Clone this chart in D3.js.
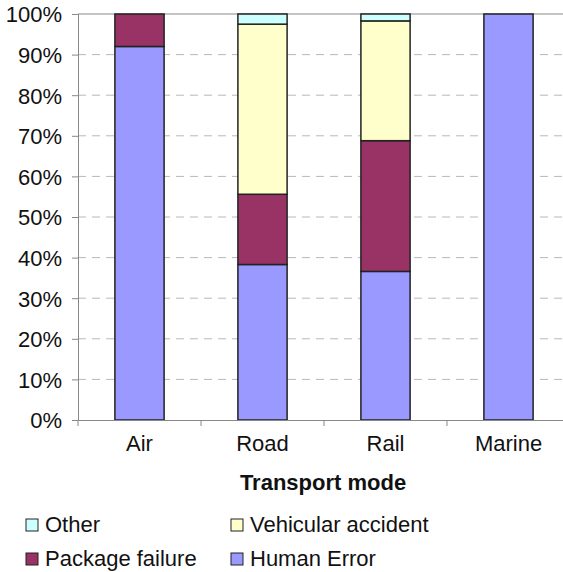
<!DOCTYPE html>
<html>
<head>
<meta charset="utf-8">
<script src="https://cdn.jsdelivr.net/npm/d3@7"></script>
<style>
  body { margin: 0; background: #fff; }
  svg { font-family: "Liberation Sans", Arial, sans-serif; }
</style>
</head>
<body>
<div id="chart"></div>
<script>
const modes = ["Air", "Road", "Rail", "Marine"];
const series = ["Human Error", "Package failure", "Vehicular accident", "Other"];
const humanError = [92, 38.3, 36.6, 100];
const packageFailure = [8, 17.3, 32.2, 0];
const vehicularAccident = [0, 41.9, 29.5, 0];
const other = [0, 2.5, 1.7, 0];
const yTicks = [0, 10, 20, 30, 40, 50, 60, 70, 80, 90, 100];
const colors = ["#9999ff", "#993366", "#ffffcc", "#ccffff"];

const width = 563, height = 572;
const margin = {top: 14, left: 78, bottom: 152};
const plotW = 492;
const fontSize = 22;

const table = modes.map((m, i) => ({
  mode: m,
  "Human Error": humanError[i],
  "Package failure": packageFailure[i],
  "Vehicular accident": vehicularAccident[i],
  "Other": other[i]
}));
const stacked = d3.stack().keys(series)(table);

const svg = d3.select("#chart").append("svg")
    .attr("width", width)
    .attr("height", height);

const x = d3.scaleBand()
    .domain(modes)
    .range([margin.left, margin.left + plotW])
    .paddingInner(0.6)
    .paddingOuter(0.3);

const y = d3.scaleLinear()
    .domain([0, 100])
    .range([height - margin.bottom, margin.top]);

// gridlines
svg.append("g")
  .selectAll("line")
  .data(yTicks.filter(t => t > 0 && t < 100))
  .join("line")
    .attr("x1", margin.left)
    .attr("x2", margin.left + plotW)
    .attr("y1", d => y(d))
    .attr("y2", d => y(d))
    .attr("stroke", "#b8b8b8")
    .attr("stroke-dasharray", "8,6");

// top border
svg.append("line")
    .attr("x1", margin.left).attr("x2", margin.left + plotW)
    .attr("y1", y(100)).attr("y2", y(100))
    .attr("stroke", "#888");

// bars
svg.append("g")
  .selectAll("g")
  .data(stacked)
  .join("g")
    .attr("fill", (d, i) => colors[i])
  .selectAll("rect")
  .data(d => d.filter(s => s[1] - s[0] > 0))
  .join("rect")
    .attr("x", d => x(d.data.mode))
    .attr("width", x.bandwidth())
    .attr("y", d => y(d[1]))
    .attr("height", d => y(d[0]) - y(d[1]))
    .attr("stroke", "#222")
    .attr("stroke-width", 1.5);

// y axis
const yAxis = svg.append("g")
    .attr("transform", `translate(${margin.left},0)`)
    .call(d3.axisLeft(y).tickValues(yTicks).tickFormat(d => d + "%").tickSize(6).tickPadding(10));
yAxis.select(".domain").attr("stroke", "#888");
yAxis.selectAll(".tick line").attr("stroke", "#888");
yAxis.selectAll("text").attr("font-size", fontSize).attr("fill", "#111").attr("dy", "0.36em");
yAxis.attr("font-family", null);

// x axis
const xAxis = svg.append("g")
    .attr("transform", `translate(0,${y(0)})`)
    .call(d3.axisBottom(x).tickSize(0).tickPadding(15));
xAxis.select(".domain").attr("stroke", "#888");
xAxis.selectAll("text").attr("font-size", fontSize).attr("fill", "#111");
xAxis.attr("font-family", null);

const step = plotW / modes.length;
svg.append("g")
  .selectAll("line")
  .data(d3.range(modes.length + 1))
  .join("line")
    .attr("x1", i => margin.left + i * step)
    .attr("x2", i => margin.left + i * step)
    .attr("y1", y(0))
    .attr("y2", y(0) + 6)
    .attr("stroke", "#888");

svg.append("text")
    .attr("x", margin.left + plotW / 2 - 1)
    .attr("y", 490)
    .attr("text-anchor", "middle")
    .attr("font-size", fontSize)
    .attr("font-weight", "bold")
    .attr("fill", "#111")
    .text("Transport mode");

// legend
const legendItems = [
  {name: "Other", color: colors[3], lx: 26, ly: 532},
  {name: "Vehicular accident", color: colors[2], lx: 231, ly: 532},
  {name: "Package failure", color: colors[1], lx: 26, ly: 566},
  {name: "Human Error", color: colors[0], lx: 231, ly: 566}
];
const leg = svg.append("g")
  .selectAll("g")
  .data(legendItems)
  .join("g")
    .attr("transform", d => `translate(${d.lx},${d.ly})`);
leg.append("rect")
    .attr("x", 0).attr("y", -13)
    .attr("width", 12).attr("height", 12)
    .attr("fill", d => d.color)
    .attr("stroke", "#222");
leg.append("text")
    .attr("x", 19)
    .attr("y", 0)
    .attr("font-size", fontSize)
    .attr("fill", "#111")
    .text(d => d.name);
</script>
</body>
</html>
